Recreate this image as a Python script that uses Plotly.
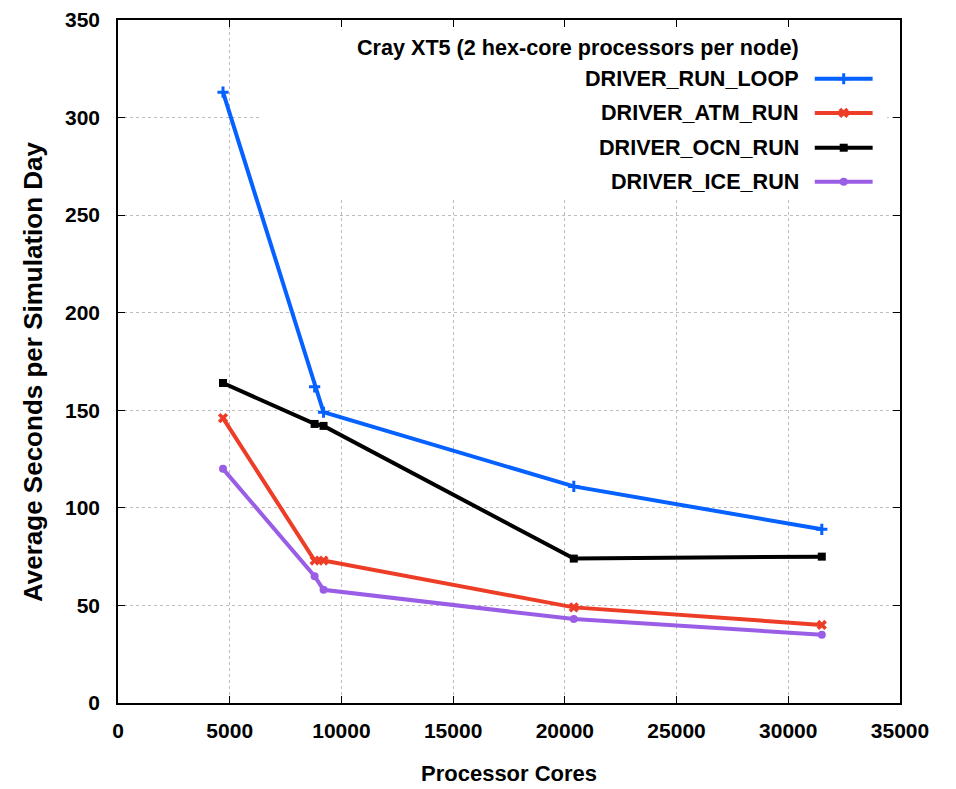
import plotly.graph_objects as go

# Processor core counts for each run
cores = [4700, 8800, 9200, 20400, 31500]

# Average seconds per simulation day for each driver timer
run_loop = [313, 162, 149, 111, 89]
atm_run = [146, 73, 73, 49, 40]
ocn_run = [164, 143, 142, 74, 75]
ice_run = [120, 65, 58, 43, 35]

series_names = ["DRIVER_RUN_LOOP", "DRIVER_ATM_RUN", "DRIVER_OCN_RUN", "DRIVER_ICE_RUN"]
series_values = [run_loop, atm_run, ocn_run, ice_run]
series_colors = ["#0561FF", "#EE3D26", "#000000", "#9A5EE6"]
series_symbols = ["cross-thin", "x", "square", "circle"]
series_sizes = [8, 9, 8, 8]

x_ticks = [0, 5000, 10000, 15000, 20000, 25000, 30000, 35000]
y_ticks = [0, 50, 100, 150, 200, 250, 300, 350]

key_title = "Cray XT5 (2 hex-core processors per node)"
x_title = "Processor Cores"
y_title = "Average Seconds per Simulation Day"

FONT = "Liberation Sans, Arial, sans-serif"


def marker_style(sym, sz, col):
    return dict(symbol=sym, size=sz, color=col,
                line=dict(color=col, width=3 if "thin" in sym else 0))


fig = go.Figure()

for name, vals, col, sym, sz in zip(series_names, series_values, series_colors,
                                    series_symbols, series_sizes):
    fig.add_trace(go.Scatter(
        x=cores, y=vals, mode="lines+markers", name=name,
        line=dict(color=col, width=4),
        marker=marker_style(sym, sz, col),
        showlegend=False,
    ))

# Key drawn on an overlay axis in 0..1 units, text to the left of each sample
key_y = [0.914, 0.864, 0.813, 0.763]
for name, ky, col, sym, sz in zip(series_names, key_y, series_colors,
                                  series_symbols, series_sizes):
    fig.add_trace(go.Scatter(
        x=[0.891, 0.965], y=[ky, ky], xaxis="x2", yaxis="y2",
        mode="lines", line=dict(color=col, width=4), showlegend=False,
        hoverinfo="skip",
    ))
    fig.add_trace(go.Scatter(
        x=[0.928], y=[ky], xaxis="x2", yaxis="y2", mode="markers",
        marker=marker_style(sym, sz, col),
        showlegend=False, hoverinfo="skip",
    ))
    fig.add_annotation(
        x=0.873, y=ky, xref="x2", yref="y2", text=name, showarrow=False,
        xanchor="right", yanchor="middle",
        font=dict(family=FONT, size=21.6, color="black", weight="bold"),
    )

fig.add_annotation(
    x=0.873, y=0.960, xref="x2", yref="y2", text=key_title, showarrow=False,
    xanchor="right", yanchor="middle",
    font=dict(family=FONT, size=21.6, color="black", weight="bold"),
)

# Axis titles
fig.add_annotation(
    x=0.5, y=0, xref="paper", yref="paper", yshift=-70, text=x_title,
    showarrow=False, xanchor="center", yanchor="middle",
    font=dict(family=FONT, size=22, color="black", weight="bold"),
)
fig.add_annotation(
    x=0, y=0.4846, xref="paper", yref="paper", xshift=-85, text=y_title,
    textangle=-90, showarrow=False, xanchor="center", yanchor="middle",
    font=dict(family=FONT, size=26, color="black", weight="bold"),
)

# Opaque key box hides the grid behind the key
fig.add_shape(type="rect", xref="x", yref="y", x0=6400, x1=34420, y0=258.3, y1=350,
              fillcolor="white", line=dict(width=0), layer="between")

axis_common = dict(
    showline=True, linecolor="black", linewidth=1.5, mirror="ticks",
    ticks="inside", ticklen=7, tickwidth=1.2, tickcolor="black",
    showgrid=True, gridcolor="#bcbcbc", gridwidth=1, griddash="dot",
    zeroline=False, automargin=False,
)

fig.update_layout(
    width=956, height=789,
    margin=dict(l=118, r=56, t=20, b=86),
    paper_bgcolor="white", plot_bgcolor="white",
    xaxis=dict(
        range=[0, 35000], tickvals=x_ticks, ticktext=[str(v) for v in x_ticks],
        tickfont=dict(family=FONT, size=21, color="black", weight="bold"),
        ticklabelstandoff=8,
        **axis_common,
    ),
    yaxis=dict(
        range=[0, 350], tickvals=y_ticks, ticktext=[str(v) for v in y_ticks],
        tickfont=dict(family=FONT, size=21, color="black", weight="bold"),
        ticklabelstandoff=12,
        **axis_common,
    ),
    xaxis2=dict(range=[0, 1], overlaying="x", visible=False, fixedrange=True),
    yaxis2=dict(range=[0, 1], overlaying="y", visible=False, fixedrange=True),
)

fig.write_html("out.html")
